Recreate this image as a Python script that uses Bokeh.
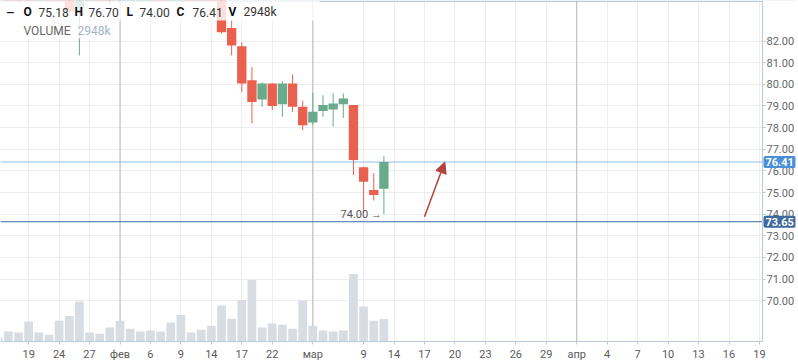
import pandas as pd
from bokeh.plotting import figure
from bokeh.models import (Range1d, LinearAxis, FixedTicker, Span, Label,
                          BoxAnnotation, Arrow, NormalHead, ColumnDataSource)
from bokeh.embed import file_html
from bokeh.resources import INLINE

# ---------------- data ----------------
trade_dates = [
    "2017-01-16", "2017-01-17", "2017-01-18", "2017-01-19", "2017-01-20", "2017-01-23",
    "2017-01-24", "2017-01-25", "2017-01-26", "2017-01-27", "2017-01-30", "2017-01-31",
    "2017-02-01", "2017-02-02", "2017-02-03", "2017-02-06", "2017-02-07", "2017-02-08",
    "2017-02-09", "2017-02-10", "2017-02-13", "2017-02-14", "2017-02-15", "2017-02-16",
    "2017-02-17", "2017-02-20", "2017-02-21", "2017-02-22", "2017-02-24", "2017-02-27",
    "2017-02-28", "2017-03-01", "2017-03-02", "2017-03-03", "2017-03-06", "2017-03-07",
    "2017-03-09", "2017-03-10", "2017-03-13",
]
open_ = [85.60, 86.10, 85.70, 85.50, 84.70, 85.10, 84.90, 84.30, 83.50, 84.90, 85.20, 84.90,
         84.00, 84.80, 85.10, 85.30, 85.40, 85.10, 85.70, 86.20, 85.90, 85.50, 84.80, 82.60,
         81.76, 80.19, 79.30, 80.04, 79.08, 80.04, 78.96, 78.24, 78.77, 78.84, 79.08, 79.04,
         76.17, 75.12, 75.18]
high = [86.30, 86.50, 86.00, 85.80, 85.30, 85.40, 85.20, 84.50, 85.20, 85.40, 85.60, 85.10,
        85.00, 85.30, 85.50, 85.70, 85.60, 85.90, 86.40, 86.40, 86.10, 85.70, 84.90, 82.95,
        81.95, 80.80, 80.10, 80.06, 80.16, 80.46, 79.24, 79.61, 79.50, 79.58, 79.58, 79.04,
        76.20, 75.89, 76.70]
low = [85.20, 85.40, 85.10, 84.40, 84.50, 84.60, 84.10, 83.30, 81.34, 83.95, 84.70, 83.70,
       83.80, 84.50, 84.80, 85.00, 84.90, 84.90, 85.50, 85.80, 85.30, 84.60, 82.35, 81.34,
       79.65, 78.19, 78.96, 78.81, 78.50, 78.73, 77.88, 78.11, 78.50, 78.04, 78.45, 75.81,
       74.05, 74.63, 74.00]
close = [86.10, 85.70, 85.50, 84.70, 85.10, 84.90, 84.30, 83.40, 84.90, 85.20, 84.90, 84.00,
         84.80, 85.10, 85.30, 85.40, 85.10, 85.70, 86.20, 85.90, 85.50, 84.80, 82.41, 81.80,
         80.04, 79.19, 80.04, 79.00, 80.04, 78.96, 78.11, 78.73, 79.04, 79.11, 79.35, 76.50,
         75.50, 74.89, 76.41]
volume_k = [565, 1300, 1170, 2600, 1170, 870, 2690, 3340, 5200, 1170, 1000, 1820,
            2690, 1650, 1300, 1430, 1300, 2470, 3470, 1170, 1520, 2040, 4680, 2950,
            5420, 8020, 1820, 2340, 2170, 1650, 5330, 2040, 1430, 1300, 1430, 8800,
            4550, 2690, 2948]

tick_dates = ["2017-01-19", "2017-01-24", "2017-01-27", "2017-02-01", "2017-02-06", "2017-02-09",
              "2017-02-14", "2017-02-17", "2017-02-22", "2017-03-01", "2017-03-09", "2017-03-14",
              "2017-03-17", "2017-03-20", "2017-03-23", "2017-03-26", "2017-03-29", "2017-04-01",
              "2017-04-04", "2017-04-07", "2017-04-10", "2017-04-13", "2017-04-16", "2017-04-19"]
tick_labels = ["19", "24", "27", "фев", "6", "9", "14", "17", "22", "мар", "9", "14",
               "17", "20", "23", "26", "29", "апр", "4", "7", "10", "13", "16", "19"]
month_dates = ["2017-02-01", "2017-03-01", "2017-04-01"]
price_ticks = [70, 71, 72, 73, 74, 75, 76, 77, 78, 79, 80, 81, 82]

support_level = 73.65
arrow_from = ("2017-03-17", 73.88)
arrow_to = ("2017-03-19", 76.41)

# ---------------- slot mapping (trading days, then calendar days) ----------------
slot = {d: i for i, d in enumerate(trade_dates)}
future = pd.date_range(pd.Timestamp(trade_dates[-1]) + pd.Timedelta(days=1), periods=45, freq="D")
for j, d in enumerate(future):
    slot[d.strftime("%Y-%m-%d")] = len(trade_dates) + j
xs = [slot[d] for d in trade_dates]

# ---------------- layout / styles ----------------
FONT = "Roboto"
RED = "#e9604f"
GREEN = "#6aaa8c"
VOL = "#d7dde3"
GRID = "#eeeeee"
AXIS = "#b9cad9"
W, H = 798, 363
FRAME_W, FRAME_H = 795, 342
AXIS_PX = 762                      # pixel where the price axis sits
PX_PER_SLOT, SLOT0_PX = 10.15, -2.3
PX_PER_UNIT, ANCHOR_P, ANCHOR_PX = 21.7, 76.41, 162.0


def fx(px):
    return (px - SLOT0_PX) / PX_PER_SLOT


def fy(py):
    return ANCHOR_P + (ANCHOR_PX - py) / PX_PER_UNIT


X0, X1, XA = fx(0), fx(FRAME_W), fx(AXIS_PX)
Y0, Y1 = fy(FRAME_H), fy(0)
VOL_END = FRAME_H * 130.0

p = figure(width=W, height=H, x_range=Range1d(X0, X1), y_range=Range1d(Y0, Y1),
           y_axis_location=None, output_backend="svg", toolbar_location=None,
           min_border=0, min_border_right=W - FRAME_W, min_border_bottom=H - FRAME_H,
           background_fill_color="white", border_fill_color="white", outline_line_color=None)
p.extra_y_ranges = {"vol": Range1d(0, VOL_END)}

# x axis (real)
xt = [slot[d] for d in tick_dates]
p.xaxis.ticker = FixedTicker(ticks=xt)
p.xaxis.major_label_overrides = {slot[d]: t for d, t in zip(tick_dates, tick_labels)}
p.xaxis.bounds = (X0, XA)

# price axis (real) drawn at a fixed location; its labels are added as text below
yax = LinearAxis(ticker=FixedTicker(ticks=price_ticks), fixed_location=XA,
                 major_label_overrides={t: "" for t in price_ticks})
p.add_layout(yax, "right")

for ax in (p.xaxis[0], yax):
    ax.axis_line_color = AXIS
    ax.major_tick_line_color = AXIS
    ax.major_tick_in = 0
    ax.major_tick_out = 3
    ax.minor_tick_line_color = None
    ax.major_label_text_font = FONT
    ax.major_label_text_font_size = "11px"
    ax.major_label_text_color = "#5a5a5a"
    ax.major_label_standoff = 3
yax.major_label_standoff = 0

p.xgrid.ticker = FixedTicker(ticks=xt)
p.ygrid.ticker = FixedTicker(ticks=price_ticks)
p.xgrid.grid_line_color = GRID
p.ygrid.grid_line_color = GRID

# top border
p.add_layout(Span(location=fy(0.75), dimension="width", line_color=AXIS,
                  line_width=1.5, level="underlay"))
# month separators
for d in month_dates:
    p.add_layout(Span(location=slot[d], dimension="height", line_color="#b8b8b8",
                      line_width=1, level="underlay"))
# level lines
p.add_layout(Span(location=close[-1], dimension="width", line_color="#8fbfe8",
                  line_width=1, level="underlay"))
p.add_layout(Span(location=support_level, dimension="width", line_color="#3a6ca6",
                  line_width=1, level="underlay"))
# blank the strip right of the price axis
p.add_layout(BoxAnnotation(left=fx(AXIS_PX + 0.5), right=X1, top=Y1, bottom=Y0,
                           fill_color="white", fill_alpha=1.0, line_color=None, level="underlay"))

# volume
vsrc = ColumnDataSource(dict(x=xs, v=volume_k))
p.vbar(x="x", top="v", bottom=0, width=0.855, source=vsrc, fill_color=VOL,
       line_color=None, y_range_name="vol")

# candles
colors = [GREEN if c >= o else RED for o, c in zip(open_, close)]
csrc = ColumnDataSource(dict(x=xs, o=open_, h=high, l=low, c=close,
                             top=[max(o, c) for o, c in zip(open_, close)],
                             bot=[min(o, c) for o, c in zip(open_, close)],
                             col=colors))
p.segment(x0="x", y0="l", x1="x", y1="h", source=csrc, line_color="col", line_width=1)
p.vbar(x="x", top="top", bottom="bot", width=0.92, source=csrc, fill_color="col",
       line_color=None)

# arrow drawing
AC = "#b5403f"
p.add_layout(Arrow(end=NormalHead(size=11, fill_color=AC, line_color=AC),
                   x_start=slot[arrow_from[0]], y_start=arrow_from[1],
                   x_end=slot[arrow_to[0]], y_end=arrow_to[1],
                   line_color=AC, line_width=1.5))

# min low marker
imin = min(range(len(low)), key=lambda i: (low[i], -i))
p.add_layout(Label(x=xs[imin], y=low[imin], x_offset=-2, text=f"{low[imin]:.2f} →",
                   text_align="right", text_baseline="middle", text_font=FONT,
                   text_font_size="11px", text_color="#555555"))

# legend overlay
p.add_layout(BoxAnnotation(left=X0, right=fx(319), top=Y1, bottom=fy(20),
                           fill_color="white", fill_alpha=0.8, line_color=None))
p.add_layout(BoxAnnotation(left=X0, right=fx(115), top=fy(20), bottom=fy(38),
                           fill_color="white", fill_alpha=0.8, line_color=None))


def lab(text, px, py, color="#222222", bold=False, size="12px"):
    p.add_layout(Label(x=fx(px), y=fy(py), text=text, text_align="left",
                       text_baseline="middle", text_font=FONT, text_font_size=size,
                       text_color=color, text_font_style="bold" if bold else "normal"))


def kfmt(v):
    return f"{v:.0f}k"


ROW1, ROW2 = 11.7, 30.7
lab("\u2014", 6, ROW1, "#111111", True, "10px")
items = [("O", 23, True, "#111111"), (f"{open_[-1]:.2f}", 38, False, "#333333"),
         ("H", 74, True, "#111111"), (f"{high[-1]:.2f}", 88, False, "#333333"),
         ("L", 126, True, "#111111"), (f"{low[-1]:.2f}", 139, False, "#333333"),
         ("C", 176, True, "#111111"), (f"{close[-1]:.2f}", 192, False, "#333333"),
         ("V", 228, True, "#111111"), (kfmt(volume_k[-1]), 243, False, "#333333")]
for t, px, b, col in items:
    lab(t, px, ROW1, col, b)
lab("VOLUME", 23, ROW2, "#666666")
lab(kfmt(volume_k[-1]), 77, ROW2, "#a3b3c4")

# price tick labels next to the price axis
for t in price_ticks:
    p.add_layout(Label(x=XA, y=t, x_offset=4, text=f"{t:.2f}", text_align="left",
                       text_baseline="middle", text_font=FONT, text_font_size="11px",
                       text_color="#666666"))

# price badges on the price axis
for lvl, bg in ((close[-1], "#4a90d9"), (support_level, "#3e6aa0")):
    p.add_layout(Label(x=XA, y=lvl, x_offset=1, text=f"{lvl:.2f}", text_align="left",
                       text_baseline="middle", text_font=FONT, text_font_size="11px",
                       text_font_style="bold", text_color="white",
                       background_fill_color=bg, padding=2, border_radius=2))

open("out.html", "w").write(file_html(p, INLINE))
